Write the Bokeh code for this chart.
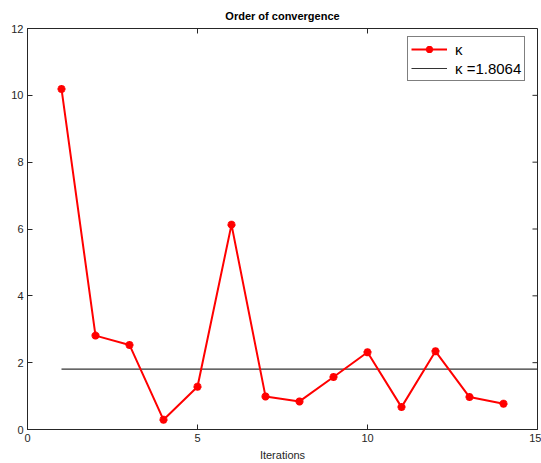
from bokeh.plotting import figure
from bokeh.models import Range1d, FixedTicker, Legend, LegendItem
from bokeh.embed import file_html
from bokeh.resources import INLINE

# Convergence order estimate per iteration
iterations = [1, 2, 3, 4, 5, 6, 7, 8, 9, 10, 11, 12, 13, 14]
kappa = [10.19, 2.81, 2.53, 0.29, 1.28, 6.13, 0.99, 0.84, 1.57, 2.31, 0.67, 2.34, 0.97, 0.77]
kappa_mean = 1.8064
mean_span = [1, 15]
x_ticks = [0, 5, 10, 15]
y_ticks = [0, 2, 4, 6, 8, 10, 12]

FONT = "Liberation Sans"
AX = "#262626"
X_MAX, Y_MAX = 15, 12

p = figure(width=541, height=463, output_backend="svg", toolbar_location=None,
           x_range=Range1d(0, X_MAX), y_range=Range1d(0, Y_MAX),
           min_border_left=27, min_border_right=4, min_border_top=27, min_border_bottom=34)

p.title.text = "Order of convergence"
p.title.align = "center"
p.title.text_font = FONT
p.title.text_font_size = "11px"
p.title.text_font_style = "bold"
p.title.text_color = "#000000"
p.title.offset = 0
p.title.standoff = 14

p.xgrid.visible = False
p.ygrid.visible = False
p.outline_line_color = AX
p.outline_line_width = 1
p.background_fill_color = "white"
p.border_fill_color = "white"

for ax, ticks in ((p.xaxis[0], x_ticks), (p.yaxis[0], y_ticks)):
    ax.ticker = FixedTicker(ticks=ticks)
    ax.major_tick_in = 5
    ax.major_tick_out = 0
    ax.minor_tick_line_color = None
    ax.axis_line_color = AX
    ax.major_tick_line_color = AX
    ax.major_label_text_font = FONT
    ax.major_label_text_font_size = "11px"
    ax.major_label_text_color = AX
    ax.major_label_standoff = 4

p.xaxis.axis_label = "Iterations"
p.xaxis.axis_label_text_font = FONT
p.xaxis.axis_label_text_font_size = "11px"
p.xaxis.axis_label_text_font_style = "normal"
p.xaxis.axis_label_text_color = AX
p.xaxis.axis_label_standoff = 4

# Mirrored inward ticks on the right and top edges of the box
tick_dx = 5 / 33.9
tick_dy = 5 / 33.4
p.segment(x0=[X_MAX] * len(y_ticks), y0=y_ticks, x1=[X_MAX - tick_dx] * len(y_ticks), y1=y_ticks,
          line_color=AX, line_width=1)
p.segment(x0=x_ticks, y0=[Y_MAX] * len(x_ticks), x1=x_ticks, y1=[Y_MAX - tick_dy] * len(x_ticks),
          line_color=AX, line_width=1)

r_mean = p.line(mean_span, [kappa_mean, kappa_mean], line_color="#333333", line_width=1.2)
r_line = p.line(iterations, kappa, line_color="#ff0000", line_width=2)
r_pts = p.scatter(iterations, kappa, marker="asterisk", size=8, line_color="#ff0000",
                  line_width=2.5)

legend = Legend(items=[
    LegendItem(label="\u03ba", renderers=[r_line, r_pts]),
    LegendItem(label="\u03ba =1.8064", renderers=[r_mean]),
])
legend.location = (380, 348)
legend.margin = 0
legend.padding = 3
legend.spacing = 1
legend.glyph_width = 36
legend.glyph_height = 18
legend.label_height = 18
legend.label_standoff = 8
legend.label_text_font = FONT
legend.label_text_font_size = "15px"
legend.label_text_color = "#000000"
legend.border_line_color = "#000000"
legend.border_line_width = 1
legend.background_fill_color = "white"
legend.background_fill_alpha = 1
p.add_layout(legend, "center")

open("out.html", "w").write(file_html(p, INLINE))
